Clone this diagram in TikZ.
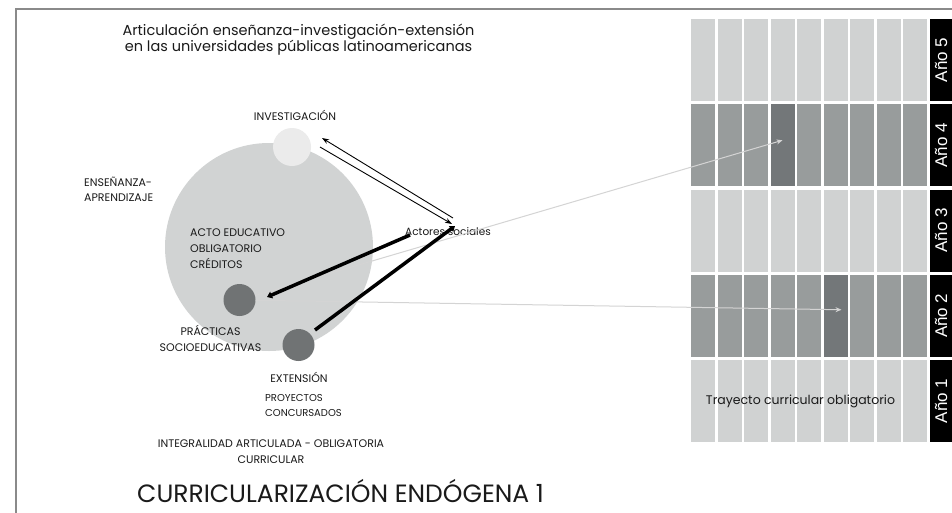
\documentclass[tikz,border=0pt]{standalone}
\usepackage{fontspec}
\setmainfont{Poppins}
\newfontfamily\yearfont{Liberation Sans}
\usetikzlibrary{arrows.meta}
\definecolor{framec}{HTML}{8A8A8A}
\definecolor{lightc}{HTML}{D0D2D2}
\definecolor{midc}{HTML}{989C9C}
\definecolor{darkc}{HTML}{737779}
\definecolor{bigc}{HTML}{D1D3D3}
\definecolor{invc}{HTML}{EBEBEB}
\definecolor{dotc}{HTML}{707374}
\definecolor{thinc}{HTML}{D4D4D4}
\definecolor{txtc}{HTML}{1A1A1A}
\begin{document}
\begin{tikzpicture}[x=1pt,y=-1pt,
  cell/.style={rectangle,inner sep=0pt,minimum width=24pt,minimum height=82pt,draw=none},
  yearbox/.style={rectangle,inner sep=0pt,minimum width=82pt,minimum height=22pt,fill=black,text=white,rotate=90,font=\yearfont\fontsize{17}{19}\selectfont},
  lbl/.style={inner sep=0pt,text=txtc,font=\fontsize{11}{16}\selectfont},
  grayarrow/.style={draw=thinc,line width=1pt,-{Stealth[length=6pt,width=5pt]}},
  thinarrow/.style={draw=black,line width=0.9pt,-{Stealth[length=7pt,width=5pt]}},
  thickarrow/.style={draw=black,line width=3.5pt,-{Triangle[length=5pt,width=7pt]}}]
\useasboundingbox (0,0) rectangle (952,512);
\fill[white] (0,0) rectangle (952,512);
% frame
\draw[framec,line width=1.5pt] (16,513) -- (16,9) -- (953,9);
% grid
\foreach \j/\col in {0/lightc,1/midc,2/lightc,3/midc,4/lightc}{
  \foreach \i in {0,...,8}{
    \node[cell,fill=\col] (c-\j-\i) at (703+\i*26.5, 60+\j*85.25) {};
  }
}
\node[cell,fill=darkc] (h4) at (c-1-3) {};
\node[cell,fill=darkc] (h2) at (c-3-5) {};
\foreach \j/\y in {0/5,1/4,2/3,3/2,4/1}{
  \node[yearbox] (y\y) at (941, 60+\j*85.25) {Año \y};
}
% circles
\node[circle,fill=bigc,minimum size=208pt,inner sep=0pt] (big) at (269,247) {};
\node[circle,fill=invc,minimum size=38pt,inner sep=0pt] (inv) at (292,147) {};
\node[circle,fill=dotc,minimum size=32pt,inner sep=0pt] (prac) at (239.5,300) {};
\node[circle,fill=dotc,minimum size=32pt,inner sep=0pt] (ext) at (298.5,345) {};
% actors
\node[lbl,font=\fontsize{10.5}{12}\selectfont] (act) at (448,232) {Actores sociales};
\coordinate (a1) at (453,218);
\coordinate (i1) at (322,138);
\coordinate (i2) at (320,147);
\coordinate (a2) at (452,224);
\coordinate (a3) at (410,235);
\coordinate (p3) at (267,297);
\coordinate (e4) at (315,330);
\coordinate (a4) at (455,226);
% gray connectors
\draw[grayarrow] (prac) -- ([yshift=5pt]h4.center);
\draw[grayarrow] (prac) -- ([xshift=6pt,yshift=6pt]h2.center);
% black connectors
\draw[thinarrow] (a1) -- (i1);
\draw[thinarrow] (i2) -- (a2);
\draw[thickarrow] (a3) -- (p3);
\draw[thickarrow] (e4) -- (a4);
% texts
\node[lbl,font=\fontsize{14.5}{15.5}\selectfont,align=center] (title) at (298.5,39.5) {Articulación enseñanza-investigación-extensión\\en las universidades públicas latinoamericanas};
\node[lbl] (tinv) at (295,115) {INVESTIGACIÓN};
\node[lbl,align=left,anchor=west,font=\fontsize{11}{15}\selectfont] (tens) at (84,189.5) {ENSEÑANZA-\\APRENDIZAJE};
\node[lbl,align=left,anchor=west] (tacto) at (190,248.5) {ACTO EDUCATIVO\\OBLIGATORIO\\CRÉDITOS};
\node[lbl,align=center] (tprac) at (210.5,338) {PRÁCTICAS\\SOCIOEDUCATIVAS};
\node[lbl] (text) at (299,377) {EXTENSIÓN};
\node[lbl,font=\fontsize{10}{15}\selectfont,align=left,anchor=west] (tproy) at (265,405.5) {PROYECTOS\\CONCURSADOS};
\node[lbl,align=center] (tint) at (271,452) {INTEGRALIDAD ARTICULADA - OBLIGATORIA\\CURRICULAR};
\node[lbl,font=\fontsize{25}{28}\selectfont,anchor=base west] (tcur) at (137,502) {CURRICULARIZACIÓN ENDÓGENA 1};
\node[lbl,font=\fontsize{12.5}{14}\selectfont] (ttray) at (800.5,401) {Trayecto curricular obligatorio};
\end{tikzpicture}
\end{document}
